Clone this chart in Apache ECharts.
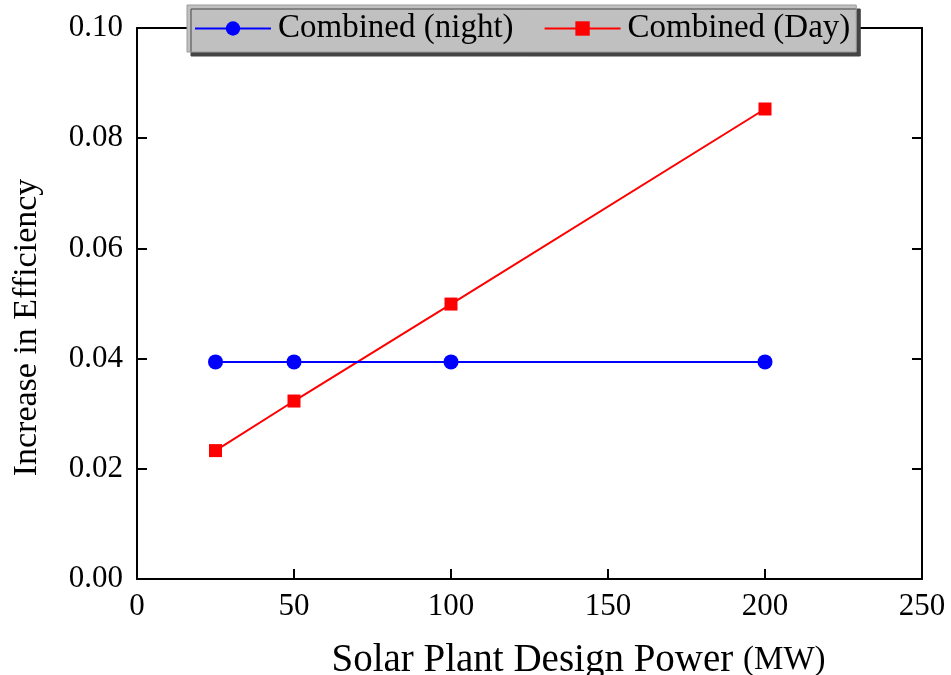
<!DOCTYPE html>
<html>
<head>
<meta charset="utf-8">
<script src="https://cdn.jsdelivr.net/npm/echarts@6/dist/echarts.min.js"></script>
<style>html,body{margin:0;padding:0;background:#fff}#c{width:951px;height:675px}</style>
</head>
<body>
<div id="c"></div>
<script>
const powerMW = [25, 50, 100, 200];
const nightValues = [0.0394, 0.0394, 0.0394, 0.0394];
const dayValues = [0.0233, 0.0323, 0.0499, 0.0853];
const seriesNames = ['Combined (night)', 'Combined (Day)'];
const xTitle = 'Solar Plant Design Power';
const xUnit = '(MW)';
const yTitle = 'Increase in Efficiency';

const FONT = '"Liberation Serif", "Times New Roman", serif';
const chart = echarts.init(document.getElementById('c'), null, {renderer: 'canvas'});
const pairs = (xs, ys) => xs.map((x, i) => [x, ys[i]]);

chart.setOption({
  animation: false,
  backgroundColor: '#fff',
  grid: {left: 137, right: 29, top: 28, bottom: 96, containLabel: false, outerBoundsMode: 'none'},
  legend: {
    left: 187, top: 5,
    padding: [7, 6, 7, 7],
    itemGap: 30,
    itemWidth: 76, itemHeight: 18,
    backgroundColor: '#c0c0c0',
    borderColor: '#9a9a9a', borderWidth: 1,
    shadowColor: '#444', shadowOffsetX: 4, shadowOffsetY: 4, shadowBlur: 0,
    textStyle: {fontFamily: FONT, fontSize: 33, color: '#000', padding: [0, 0, 0, 2]},
    data: seriesNames
  },
  xAxis: [{
    type: 'value', min: 0, max: 250, interval: 50,
    name: '{a|' + xTitle + ' }{b|' + xUnit + '}',
    nameLocation: 'middle', nameGap: 62,
    nameTextStyle: {padding: [0, 0, 0, 98], rich: {a: {fontFamily: FONT, fontSize: 39, color: '#000'}, b: {fontFamily: FONT, fontSize: 33, color: '#000'}}},
    axisLine: {show: true, onZero: false, lineStyle: {color: '#000', width: 2}},
    axisTick: {show: true, inside: true, length: 10, lineStyle: {color: '#000', width: 2}},
    axisLabel: {fontFamily: FONT, fontSize: 31, color: '#000', margin: 12},
    splitLine: {show: false}
  }, {
    type: 'value', position: 'top', min: 0, max: 250, interval: 50,
    axisLine: {show: true, onZero: false, lineStyle: {color: '#000', width: 2}},
    axisTick: {show: false}, axisLabel: {show: false}, splitLine: {show: false}
  }],
  yAxis: [{
    type: 'value', min: 0, max: 0.1, interval: 0.02,
    name: yTitle, nameLocation: 'middle', nameGap: 93,
    nameTextStyle: {fontFamily: FONT, fontSize: 34, color: '#000', padding: [0, 48, 0, 0]},
    axisLine: {show: true, onZero: false, lineStyle: {color: '#000', width: 2}},
    axisTick: {show: true, inside: true, length: 10, lineStyle: {color: '#000', width: 2}},
    axisLabel: {fontFamily: FONT, fontSize: 31, color: '#000', margin: 14, formatter: v => v.toFixed(2)},
    splitLine: {show: false}
  }, {
    type: 'value', position: 'right', min: 0, max: 0.1, interval: 0.02,
    axisLine: {show: true, onZero: false, lineStyle: {color: '#000', width: 2}},
    axisTick: {show: true, inside: true, length: 10, lineStyle: {color: '#000', width: 2}},
    axisLabel: {show: false}, splitLine: {show: false}
  }],
  series: [{
    name: seriesNames[0], type: 'line', data: pairs(powerMW, nightValues),
    symbol: 'circle', symbolSize: 15,
    lineStyle: {color: '#0000ff', width: 2}, itemStyle: {color: '#0000ff'}, z: 3
  }, {
    name: seriesNames[1], type: 'line', data: pairs(powerMW, dayValues),
    symbol: 'rect', symbolSize: 13,
    lineStyle: {color: '#ff0000', width: 2}, itemStyle: {color: '#ff0000'}, z: 2
  }]
});
</script>
</body>
</html>
